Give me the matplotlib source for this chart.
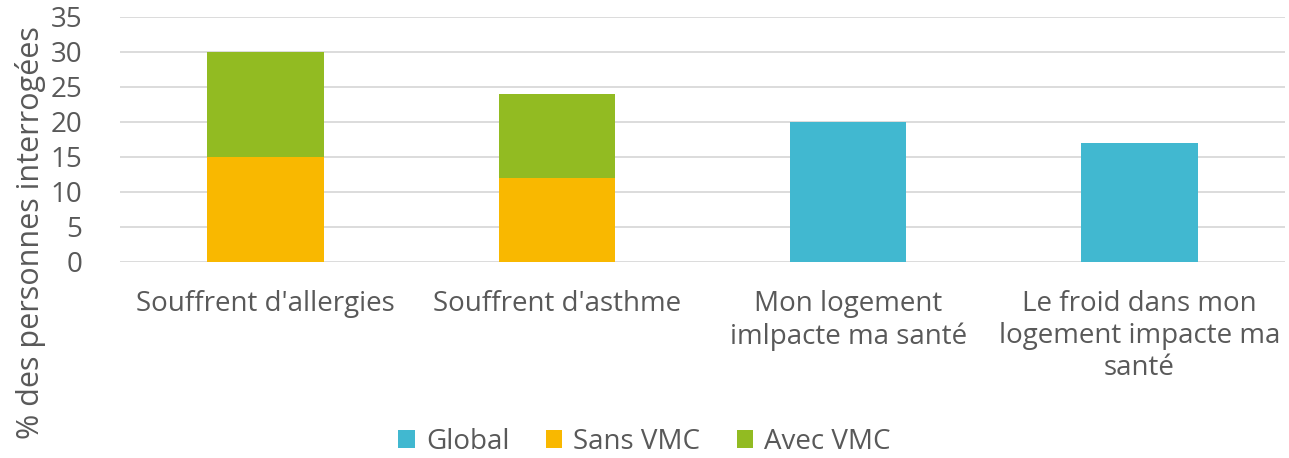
import matplotlib.pyplot as plt
import numpy as np

categories = ["Souffrent d'allergies", "Souffrent d'asthme",
              "Mon logement\nimlpacte ma santé",
              "Le froid dans mon\nlogement impacte ma\nsanté"]
global_vals = [0, 0, 20, 17]
sans_vmc = [15, 12, 0, 0]
avec_vmc = [15, 12, 0, 0]

plt.rcParams['font.family'] = ['Open Sans', 'DejaVu Sans']
txt = '#595959'

fig = plt.figure(figsize=(12.89, 4.58), dpi=100)
ax = fig.add_axes([0.093, 0.428, 0.904, 0.535])

x = np.arange(len(categories))
w = 0.4
ax.bar(x, global_vals, w, color='#41B8D0', label='Global', zorder=3)
ax.bar(x, sans_vmc, w, color='#F9B800', label='Sans VMC', zorder=3)
ax.bar(x, avec_vmc, w, bottom=sans_vmc, color='#92BB22', label='Avec VMC', zorder=3)

ax.set_xlim(-0.5, 3.5)
ax.set_ylim(0, 35)
ax.set_yticks(range(0, 36, 5))
ax.yaxis.grid(True, color='#D9D9D9', linewidth=1.3, zorder=0)
for s in ax.spines.values():
    s.set_visible(False)
ax.tick_params(length=0, colors=txt, labelsize=20)
ax.tick_params(axis='y', pad=27)
ax.tick_params(axis='x', pad=20)
ax.set_xticks(x)
ax.set_xticklabels(categories, fontsize=20, color=txt, linespacing=1.2)
ax.set_ylabel('% des personnes interrogées', fontsize=22, color=txt)
ax.yaxis.set_label_coords(-0.063, 0.12)

ax.legend(loc='lower center', ncol=3, frameon=False, fontsize=20, labelcolor=txt,
          handlelength=0.6, handleheight=0.6, handletextpad=0.4, columnspacing=1.3)
ax.get_legend().set_bbox_to_anchor((0.5, -0.05), transform=fig.transFigure)

fig.savefig('out.png', dpi=100)
